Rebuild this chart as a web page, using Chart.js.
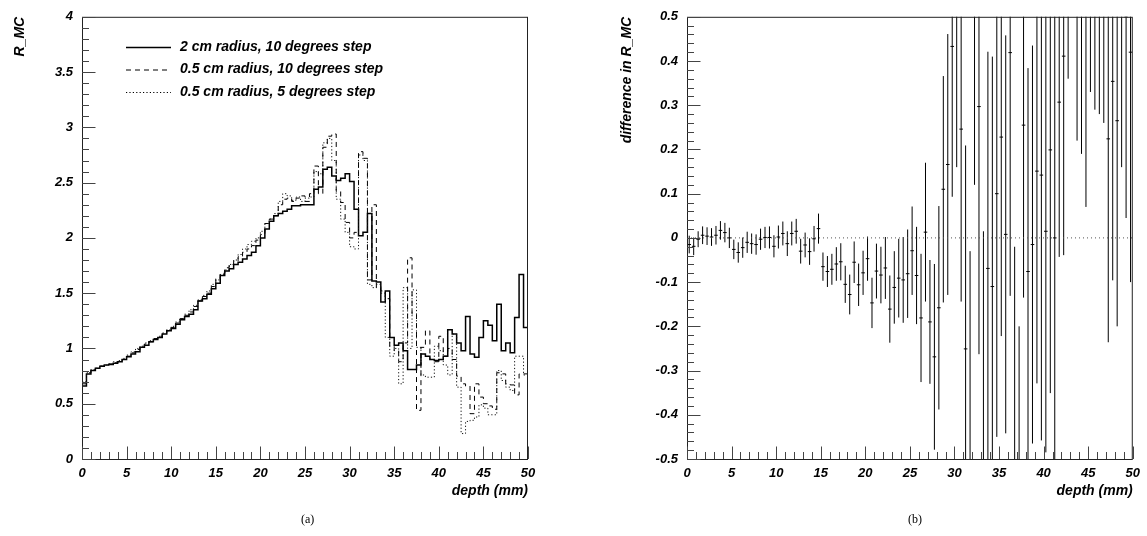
<!DOCTYPE html>
<html>
<head>
<meta charset="utf-8">
<script src="https://cdn.jsdelivr.net/npm/chart.js@4.4.1/dist/chart.umd.min.js"></script>
<style>
  body { margin: 0; background: #fff; }
  #wrap { position: relative; width: 1147px; height: 536px; background: #fff; }
  canvas { position: absolute; top: 0; }
  .cap { position: absolute; top: 512px; font: 12px "Liberation Serif", "DejaVu Serif", serif; color: #000; }
</style>
</head>
<body>
<div id="wrap">
  <canvas id="chartA" width="545" height="536" style="left:0"></canvas>
  <canvas id="chartB" width="547" height="536" style="left:600px"></canvas>
  <div class="cap" style="left:301px">(a)</div>
  <div class="cap" style="left:908px">(b)</div>
</div>
<script>
// histogram bins: 100 bins of 0.5 mm from 0 to 50 mm
var binWidth = 0.5;

var legendLabels = ['2 cm radius, 10 degrees step', '0.5 cm radius, 10 degrees step', '0.5 cm radius, 5 degrees step'];

var solid2cm10deg = [
  0.66, 0.77, 0.80, 0.82, 0.84, 0.85, 0.855, 0.865, 0.88, 0.90,
  0.925, 0.95, 0.97, 1.01, 1.03, 1.06, 1.08, 1.10, 1.13, 1.16,
  1.18, 1.22, 1.26, 1.29, 1.31, 1.35, 1.43, 1.45, 1.49, 1.54,
  1.59, 1.66, 1.70, 1.72, 1.76, 1.78, 1.81, 1.84, 1.87, 1.93,
  2.00, 2.08, 2.15, 2.20, 2.22, 2.24, 2.26, 2.29, 2.29, 2.30,
  2.30, 2.30, 2.44, 2.46, 2.62, 2.64, 2.56, 2.52, 2.54, 2.58,
  2.51, 2.26, 2.02, 2.05, 2.22, 1.61, 1.60, 1.42, 1.52, 1.10,
  1.03, 1.05, 0.98, 0.81, 0.81, 0.85, 0.95, 0.93, 0.90, 0.89,
  0.90, 0.93, 1.17, 1.13, 1.05, 0.98, 1.29, 0.95, 0.92, 1.10,
  1.25, 1.21, 1.07, 1.40, 0.98, 1.05, 0.96, 1.28, 1.67, 1.19
];

var dashed05cm10deg = [
  0.68, 0.78, 0.80, 0.82, 0.84, 0.85, 0.86, 0.87, 0.88, 0.90,
  0.93, 0.96, 0.99, 1.02, 1.04, 1.06, 1.09, 1.11, 1.13, 1.16,
  1.19, 1.23, 1.27, 1.30, 1.33, 1.38, 1.43, 1.47, 1.50, 1.56,
  1.63, 1.68, 1.73, 1.76, 1.79, 1.83, 1.87, 1.90, 1.93, 1.98,
  2.03, 2.13, 2.17, 2.20, 2.30, 2.35, 2.36, 2.33, 2.36, 2.38,
  2.33, 2.40, 2.65, 2.40, 2.82, 2.92, 2.94, 2.42, 2.32, 2.14,
  2.00, 2.05, 2.78, 2.72, 1.62, 2.30, 1.55, 1.52, 1.45, 1.02,
  0.98, 0.88, 1.05, 1.82, 1.31, 0.44, 1.01, 1.16, 0.90, 0.88,
  1.11, 0.93, 1.00, 0.90, 0.75, 0.68, 0.66, 0.41, 0.68, 0.56,
  0.50, 0.48, 0.45, 0.78, 0.77, 0.68, 0.67, 0.58, 0.77, 0.77
];

var dotted05cm5deg = [
  0.70, 0.78, 0.81, 0.82, 0.84, 0.85, 0.86, 0.88, 0.89, 0.91,
  0.94, 0.97, 1.00, 1.02, 1.05, 1.07, 1.09, 1.11, 1.14, 1.17,
  1.20, 1.24, 1.27, 1.31, 1.35, 1.39, 1.44, 1.48, 1.52, 1.58,
  1.62, 1.67, 1.71, 1.76, 1.80, 1.85, 1.90, 1.94, 1.97, 2.00,
  2.06, 2.13, 2.17, 2.22, 2.33, 2.40, 2.38, 2.34, 2.37, 2.33,
  2.36, 2.37, 2.60, 2.58, 2.86, 2.90, 2.70, 2.35, 2.17, 2.05,
  1.92, 1.90, 2.75, 2.70, 1.58, 1.55, 1.58, 1.50, 1.10, 0.93,
  1.00, 0.68, 1.55, 1.00, 1.53, 1.01, 0.76, 0.74, 0.74, 1.02,
  0.98, 0.85, 0.76, 1.13, 0.65, 0.23, 0.34, 0.35, 0.38, 0.49,
  0.46, 0.40, 0.40, 0.80, 0.71, 0.65, 0.62, 0.93, 0.93, 0.76
];

// right panel: difference in R_MC per bin, with its error
var diffValues = [
  -0.015, -0.019, -0.003, 0.006, 0.004, 0.002, 0.006, 0.017, 0.012, 0.000,
  -0.026, -0.033, -0.022, -0.010, -0.013, -0.015, -0.003, 0.001, 0.001, -0.019,
  0.002, 0.010, -0.013, 0.010, 0.015, -0.030, -0.016, -0.031, -0.002, 0.021,
  -0.065, -0.076, -0.071, -0.059, -0.054, -0.105, -0.128, -0.055, -0.106, -0.079,
  -0.047, -0.147, -0.075, -0.084, -0.068, -0.161, -0.112, -0.091, -0.095, -0.081,
  -0.029, -0.085, -0.181, 0.013, -0.190, -0.269, -0.158, 0.110, 0.166, 0.433,
  0.580, 0.246, -0.251, -0.560, 0.620, 0.297, -0.560, -0.069, -0.110, 0.100,
  0.228, 0.008, 0.419, -0.520, -0.750, 0.255, -0.076, -0.015, 0.151, 0.142,
  0.015, 0.199, 0.000, 0.307, 0.411, 0.800, 0.950, 0.700, 0.650, 0.550,
  0.700, 0.700, 0.700, 0.700, 0.224, 0.354, 0.265, 0.650, 0.500, 0.420
];

var diffErrors = [
  0.020, 0.020, 0.018, 0.020, 0.020, 0.020, 0.021, 0.021, 0.022, 0.023,
  0.022, 0.023, 0.023, 0.024, 0.023, 0.023, 0.024, 0.024, 0.025, 0.025,
  0.026, 0.027, 0.028, 0.027, 0.028, 0.028, 0.028, 0.030, 0.029, 0.034,
  0.032, 0.035, 0.035, 0.038, 0.042, 0.042, 0.045, 0.047, 0.048, 0.050,
  0.050, 0.057, 0.062, 0.064, 0.070, 0.076, 0.082, 0.089, 0.097, 0.100,
  0.100, 0.110, 0.145, 0.157, 0.140, 0.210, 0.230, 0.256, 0.295, 0.340,
  0.420, 0.390, 0.460, 0.530, 0.500, 0.560, 0.575, 0.490, 0.520, 0.550,
  0.450, 0.450, 0.550, 0.500, 0.550, 0.390, 0.460, 0.450, 0.480, 0.600,
  0.500, 0.550, 0.550, 0.350, 0.450, 0.440, 0.300, 0.480, 0.460, 0.480,
  0.370, 0.410, 0.420, 0.440, 0.460, 0.450, 0.465, 0.490, 0.455, 0.520
];

var FONT = "'Liberation Sans', Arial, Helvetica, sans-serif";

// histogram -> stepped line points at bin low edges, plus the last edge
function histPoints(vals) {
  var pts = [];
  for (var i = 0; i < vals.length; i++) pts.push({ x: i * binWidth, y: vals[i] });
  pts.push({ x: vals.length * binWidth, y: vals[vals.length - 1] });
  return pts;
}

function fmt(v) {
  var r = Math.round(v * 10) / 10;
  return String(r === 0 ? 0 : r);
}

// ROOT-like frame: box, inward ticks, axis titles, legend
var rootFrame = {
  id: 'rootFrame',
  afterDatasetsDraw: function (chart, args, o) {
    var ctx = chart.ctx, a = chart.chartArea;
    var xs = chart.scales.x, ys = chart.scales.y;
    ctx.save();
    ctx.strokeStyle = '#222';
    ctx.lineWidth = 1;
    ctx.strokeRect(a.left + 0.5, a.top + 0.5, a.right - a.left - 1, a.bottom - a.top);

    ctx.strokeStyle = '#444';
    ctx.beginPath();
    var n = Math.round((xs.max - xs.min) / o.xMinor);
    for (var k = 0; k <= n; k++) {
      var px = Math.round(xs.getPixelForValue(xs.min + k * o.xMinor)) + 0.5;
      var len = (k % o.xMajorEvery === 0) ? 12.5 : 7;
      ctx.moveTo(px, a.bottom);
      ctx.lineTo(px, a.bottom - len);
    }
    n = Math.round((ys.max - ys.min) / o.yMinor);
    for (k = 0; k <= n; k++) {
      var py = Math.round(ys.getPixelForValue(ys.min + k * o.yMinor)) + 0.5;
      var l2 = (k % o.yMajorEvery === 0) ? 13.5 : 7;
      ctx.moveTo(a.left, py);
      ctx.lineTo(a.left + l2, py);
    }
    ctx.stroke();

    ctx.fillStyle = '#000';
    ctx.font = 'italic bold 14px ' + FONT;
    // y title, reads upward, ends at top of frame
    ctx.save();
    ctx.translate(o.yTitleX, a.top);
    ctx.rotate(-Math.PI / 2);
    ctx.textAlign = 'right';
    ctx.textBaseline = 'middle';
    ctx.fillText(o.yTitle, 0, 0);
    ctx.restore();
    // x title
    ctx.textAlign = 'right';
    ctx.textBaseline = 'middle';
    ctx.fillText(o.xTitle, a.right, 491);

    if (o.legend) {
      ctx.textAlign = 'left';
      for (var i = 0; i < o.legend.length; i++) {
        var ly = 47 + i * 22.5;
        ctx.strokeStyle = '#000';
        ctx.lineWidth = i === 0 ? 1.3 : 1;
        ctx.setLineDash(o.legend[i].dash);
        ctx.beginPath();
        ctx.moveTo(126, ly + 0.5);
        ctx.lineTo(171, ly + 0.5);
        ctx.stroke();
        ctx.setLineDash([]);
        ctx.fillText(o.legend[i].text, 180, ly);
      }
    }
    ctx.restore();
  }
};

function baseScales(yMin, yMax, yStep, yWidth, yPad) {
  var tickFont = { family: FONT, size: 13, style: 'italic', weight: 'bold' };
  return {
    x: {
      type: 'linear', min: 0, max: 50,
      grid: { display: false, drawTicks: false },
      border: { display: false },
      ticks: { stepSize: 5, padding: 7, color: '#000', font: tickFont, maxRotation: 0, autoSkip: false,
        callback: function (v) { return fmt(v); } },
      afterFit: function (s) { s.height = 77; }
    },
    y: {
      type: 'linear', min: yMin, max: yMax,
      grid: { display: false, drawTicks: false },
      border: { display: false },
      ticks: { stepSize: yStep, padding: yPad, color: '#000', font: tickFont, autoSkip: false,
        callback: function (v) { return fmt(v); } },
      afterFit: function (s) { s.width = yWidth; }
    }
  };
}

var dashStyles = [[], [5, 4], [1.2, 2.2]];

new Chart(document.getElementById('chartA'), {
  type: 'line',
  data: {
    datasets: [
      { data: histPoints(dotted05cm5deg), stepped: 'before', borderColor: '#111', borderWidth: 1, borderDash: dashStyles[2], pointRadius: 0, fill: false },
      { data: histPoints(dashed05cm10deg), stepped: 'before', borderColor: '#000', borderWidth: 1, borderDash: dashStyles[1], pointRadius: 0, fill: false },
      { data: histPoints(solid2cm10deg), stepped: 'before', borderColor: '#000', borderWidth: 1.5, pointRadius: 0, fill: false }
    ]
  },
  options: {
    responsive: false, animation: false, devicePixelRatio: 1,
    layout: { padding: { top: 13, right: 17, bottom: 0, left: 0 } },
    scales: baseScales(0, 4, 0.5, 82, 9),
    plugins: {
      legend: { display: false }, tooltip: { enabled: false },
      rootFrame: {
        xMinor: 1, xMajorEvery: 5, yMinor: 0.1, yMajorEvery: 5,
        yTitle: 'R_MC', yTitleX: 20, xTitle: 'depth (mm)',
        legend: [
          { text: legendLabels[0], dash: dashStyles[0] },
          { text: legendLabels[1], dash: dashStyles[1] },
          { text: legendLabels[2], dash: dashStyles[2] }
        ]
      }
    }
  },
  plugins: [rootFrame]
});

// error bars as broken line segments
var vBars = [], hMarks = [];
for (var i = 0; i < diffValues.length; i++) {
  var cx = (i + 0.5) * binWidth;
  vBars.push({ x: cx, y: diffValues[i] - diffErrors[i] });
  vBars.push({ x: cx, y: diffValues[i] + diffErrors[i] });
  vBars.push({ x: cx, y: null });
  hMarks.push({ x: cx - 0.2, y: diffValues[i] });
  hMarks.push({ x: cx + 0.2, y: diffValues[i] });
  hMarks.push({ x: cx, y: null });
}

new Chart(document.getElementById('chartB'), {
  type: 'line',
  data: {
    datasets: [
      { data: [{ x: 0, y: 0 }, { x: 50, y: 0 }], borderColor: '#555', borderWidth: 1, borderDash: [1, 3], pointRadius: 0 },
      { data: vBars, borderColor: '#000', borderWidth: 1, pointRadius: 0, spanGaps: false },
      { data: hMarks, borderColor: '#000', borderWidth: 1, pointRadius: 0, spanGaps: false }
    ]
  },
  options: {
    responsive: false, animation: false, devicePixelRatio: 1,
    layout: { padding: { top: 13, right: 12, bottom: 0, left: 0 } },
    scales: baseScales(-0.5, 0.5, 0.1, 87, 9),
    plugins: {
      legend: { display: false }, tooltip: { enabled: false },
      rootFrame: {
        xMinor: 1, xMajorEvery: 5, yMinor: 0.02, yMajorEvery: 5,
        yTitle: 'difference in R_MC', yTitleX: 27, xTitle: 'depth (mm)'
      }
    }
  },
  plugins: [rootFrame]
});
</script>
</body>
</html>
